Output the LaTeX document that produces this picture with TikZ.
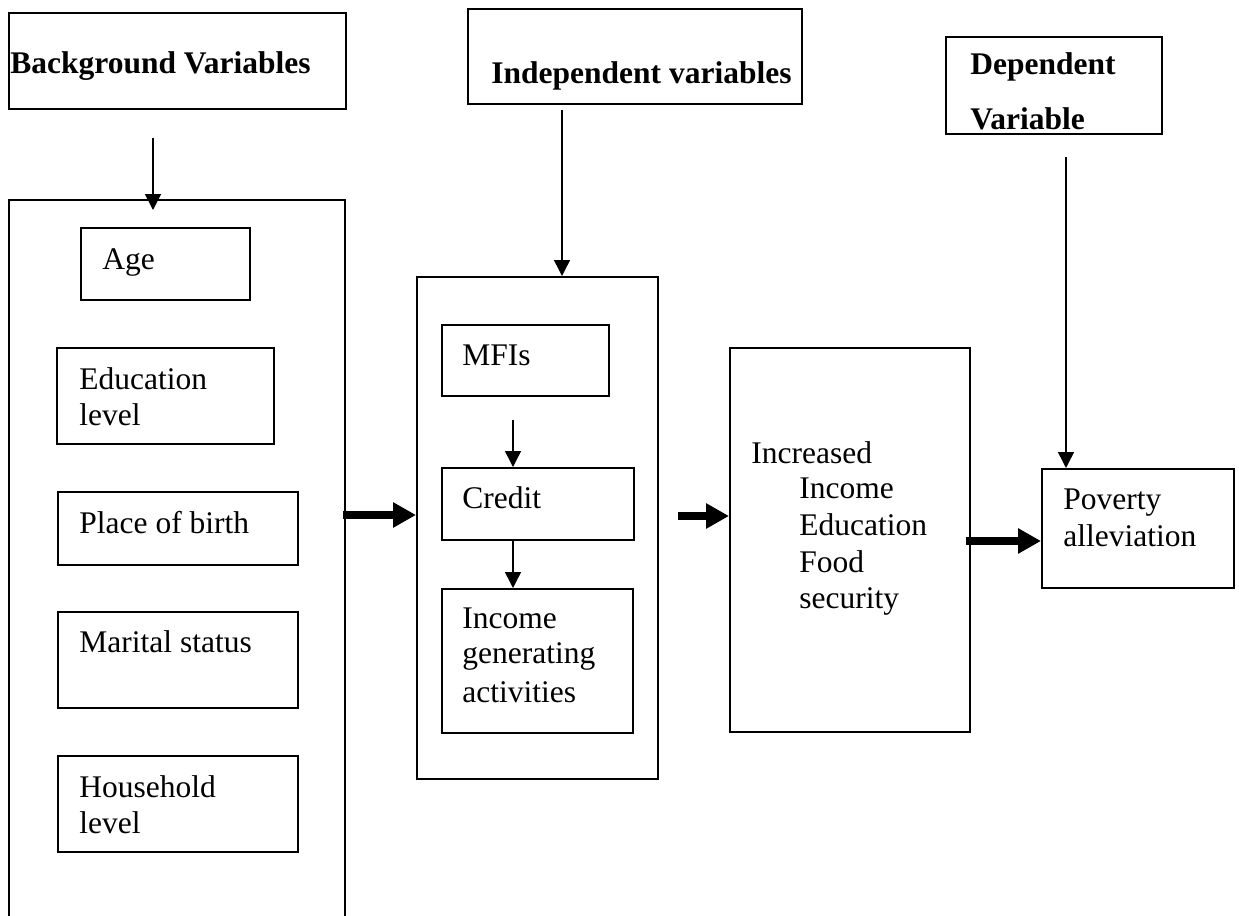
\documentclass[tikz,border=0pt]{standalone}
\usepackage{fontspec}
\setmainfont{Liberation Serif}
\usetikzlibrary{arrows.meta,fit}
\begin{document}
\begin{tikzpicture}[x=0.5pt,y=-0.5pt,
  box/.style={draw, line width=1pt, inner sep=0pt},
  txt/.style={anchor=base west, inner sep=0pt, font=\fontsize{15.75pt}{18pt}\selectfont},
  btxt/.style={txt, font=\fontsize{15.75pt}{18pt}\selectfont\bfseries},
  thin/.style={line width=0.75pt, -{Triangle[length=8pt,width=8pt]}},
  thick/.style={line width=4pt, -{Triangle[length=11.5pt,width=12pt]}}]
\useasboundingbox (0,0) rectangle (1239,916);
% header boxes
\node[box, fit={(9,13) (346,109)}] (bg) {};
\node[btxt] (bgt) at (10,73) {Background Variables};
\node[box, fit={(468,9) (802,104)}] (ind) {};
\node[btxt] (indt) at (491,83) {Independent variables};
\node[box, fit={(946,37) (1162,134)}] (dep) {};
\node[btxt] (dept1) at (970,74) {Dependent};
\node[btxt] (dept2) at (970,129) {Variable};
% left big box (open at bottom)
\coordinate (lbl) at (9,916);
\coordinate (ltl) at (9,200);
\coordinate (ltr) at (345,200);
\coordinate (lbr) at (345,916);
\draw[line width=1pt] (lbl) -- (ltl) -- (ltr) -- (lbr);
\node[box, fit={(81,228) (250,300)}] (age) {};
\node[txt] (aget) at (102,269) {Age};
\node[box, fit={(57,348) (274,444)}] (edu) {};
\node[txt] (edut1) at (79,389) {Education};
\node[txt] (edut2) at (79,425) {level};
\node[box, fit={(58,492) (298,565)}] (place) {};
\node[txt] (placet) at (79,533) {Place of birth};
\node[box, fit={(58,612) (298,708)}] (mar) {};
\node[txt] (mart) at (79,652) {Marital status};
\node[box, fit={(58,756) (298,852)}] (hh) {};
\node[txt] (hht1) at (79,797) {Household};
\node[txt] (hht2) at (79,833) {level};
% middle box
\node[box, fit={(417,277) (658,779)}] (mid) {};
\node[box, fit={(442,325) (609,396)}] (mfi) {};
\node[txt] (mfit) at (462,365) {MFIs};
\node[box, fit={(442,468) (634,540)}] (cred) {};
\node[txt] (credt) at (462,508) {Credit};
\node[box, fit={(442,589) (633,733)}] (iga) {};
\node[txt] (igat1) at (462,628) {Income};
\node[txt] (igat2) at (462,663) {generating};
\node[txt] (igat3) at (462,702) {activities};
% outcome box
\node[box, fit={(730,348) (970,732)}] (inc) {};
\node[txt] (inct1) at (751,463) {Increased};
\node[txt] (inct2) at (799,498) {Income};
\node[txt] (inct3) at (799,535) {Education};
\node[txt] (inct4) at (799,572) {Food};
\node[txt] (inct5) at (799,608) {security};
% poverty box
\node[box, fit={(1042,469) (1234,588)}] (pov) {};
\node[txt] (povt1) at (1063,509) {Poverty};
\node[txt] (povt2) at (1063,546) {alleviation};
% thin arrows
\coordinate (a1s) at (153,138);
\coordinate (a1e) at (153,210);
\draw[thin] (a1s) -- (a1e);
\coordinate (a2s) at (562,110);
\draw[thin] (a2s) -- (a2s |- mid.north);
\coordinate (a3s) at (1066,157);
\draw[thin] (a3s) -- (a3s |- pov.north);
\coordinate (a4s) at (513,420);
\draw[thin] (a4s) -- (a4s |- cred.north);
\draw[thin] (a4s |- cred.south) -- (a4s |- iga.north);
% thick arrows
\coordinate (t1s) at (343,515);
\draw[thick] (t1s) -- (t1s -| mid.west);
\coordinate (t2s) at (678,516);
\draw[thick] (t2s) -- (t2s -| inc.west);
\coordinate (t3s) at (966,541);
\draw[thick] (t3s) -- (t3s -| pov.west);
\end{tikzpicture}
\end{document}
